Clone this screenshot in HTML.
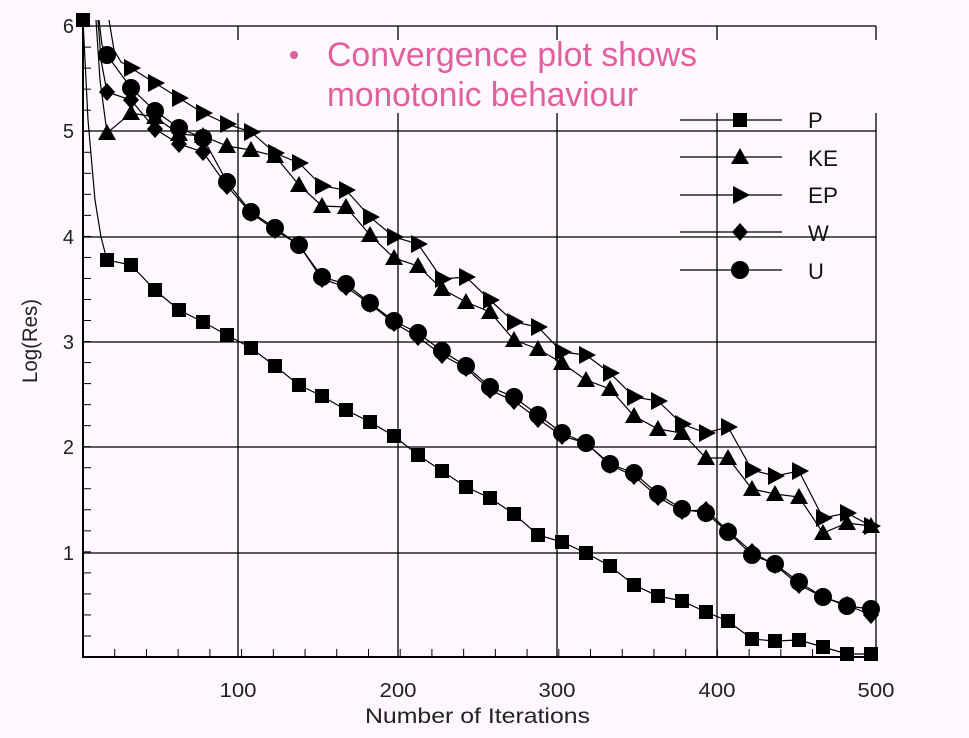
<!DOCTYPE html>
<html><head><meta charset="utf-8"><style>
html,body{margin:0;padding:0;background:#fdf8fd;}
svg{display:block;font-family:"Liberation Sans",sans-serif;}
</style></head><body>
<svg id="s" width="969" height="738" viewBox="0 0 969 738" xmlns="http://www.w3.org/2000/svg">
<rect width="969" height="738" fill="#fdf8fd"/>
<g stroke="#000" stroke-width="1.3" fill="none">
<line x1="83" y1="26" x2="876" y2="26"/>
<line x1="83" y1="131" x2="876" y2="131"/>
<line x1="83" y1="237" x2="876" y2="237"/>
<line x1="83" y1="342" x2="876" y2="342"/>
<line x1="83" y1="447" x2="876" y2="447"/>
<line x1="83" y1="553" x2="876" y2="553"/>
<line x1="238" y1="26" x2="238" y2="657"/>
<line x1="398" y1="26" x2="398" y2="657"/>
<line x1="557" y1="26" x2="557" y2="657"/>
<line x1="717" y1="26" x2="717" y2="657"/>
<line x1="876" y1="26" x2="876" y2="657"/>
<line x1="83" y1="657" x2="876" y2="657" stroke-width="2"/>
</g>
<rect x="218" y="40" width="670" height="73" fill="#fdf8fd"/>
<line x1="83" y1="26" x2="83" y2="658" stroke="#000" stroke-width="2"/>
<g id="ticks" stroke="#000" stroke-width="1"></g>
<g font-size="20" fill="#222" text-anchor="end">
<text x="74" y="33">6</text><text x="74" y="138">5</text><text x="74" y="244">4</text>
<text x="74" y="349">3</text><text x="74" y="454">2</text><text x="74" y="560">1</text>
</g>
<g font-size="20" fill="#222" text-anchor="middle">
<text x="238" y="697" textLength="37" lengthAdjust="spacingAndGlyphs">100</text>
<text x="398" y="697" textLength="37" lengthAdjust="spacingAndGlyphs">200</text>
<text x="557" y="697" textLength="37" lengthAdjust="spacingAndGlyphs">300</text>
<text x="717" y="697" textLength="37" lengthAdjust="spacingAndGlyphs">400</text>
<text x="876" y="697" textLength="37" lengthAdjust="spacingAndGlyphs">500</text>
</g>
<text x="365" y="723" font-size="21" fill="#222" textLength="225" lengthAdjust="spacingAndGlyphs">Number of Iterations</text>
<text transform="translate(37,341) rotate(-90)" font-size="21" fill="#222" text-anchor="middle" textLength="84" lengthAdjust="spacingAndGlyphs">Log(Res)</text>
<g fill="#e0609e" font-size="34">
<circle cx="294" cy="55" r="4"/>
<text x="327" y="66" textLength="370" lengthAdjust="spacingAndGlyphs">Convergence plot shows</text>
<text x="327" y="106" textLength="311" lengthAdjust="spacingAndGlyphs">monotonic behaviour</text>
</g>
<g id="series"></g>
<g font-size="22" fill="#111">
<text x="808" y="128">P</text><text x="808" y="166" textLength="30" lengthAdjust="spacingAndGlyphs">KE</text>
<text x="808" y="203" textLength="30" lengthAdjust="spacingAndGlyphs">EP</text>
<text x="808" y="241">W</text><text x="808" y="279">U</text>
</g>
</svg>
<script>
var NS="http://www.w3.org/2000/svg";
function el(p,t,a){var e=document.createElementNS(NS,t);for(var k in a)e.setAttribute(k,a[k]);p.appendChild(e);return e;}
var tk=document.getElementById("ticks");
for(var i=0;i<=25;i++){var x=83+i*31.72;el(tk,"line",{x1:x,y1:657,x2:x,y2:649});}
for(var j=0;j<=30;j++){var y=657-j*21.03;el(tk,"line",{x1:83,y1:y,x2:91,y2:y});}
var g=document.getElementById("series");
function mk(type,x,y){
 if(type=="sq")el(g,"rect",{x:x-7,y:y-7,width:14,height:14,fill:"#000"});
 else if(type=="ci")el(g,"circle",{cx:x,cy:y,r:9,fill:"#000"});
 else if(type=="di")el(g,"polygon",{points:(x)+","+(y-9)+" "+(x+8)+","+y+" "+x+","+(y+9)+" "+(x-8)+","+y,fill:"#000"});
 else if(type=="tu")el(g,"polygon",{points:x+","+(y-9)+" "+(x+9)+","+(y+7)+" "+(x-9)+","+(y+7),fill:"#000"});
 else if(type=="tr")el(g,"polygon",{points:(x+10)+","+y+" "+(x-7)+","+(y-9)+" "+(x-7)+","+(y+9),fill:"#000"});
}
var X=[107,131,155,179,203,227,251,275,299,322,346,370,394,418,442,466,490,514,538,562,586,610,634,658,682,706,728,752,775,799,823,847,871];
var S={
sq:{start:[[83,20],[88,120],[95,200],[101,237]],o:0,y:[260,265,290,310,322,335,348,366,385,396,410,422,436,455,471,487,498,514,535,542,553,566,585,596,601,612,621,639,641,640,647,654,654]},
tu:{start:[[96,20],[100,80]],o:0,y:[133,113,117,134,136,146,150,156,185,206,207,235,258,266,289,302,312,340,349,363,380,389,416,429,433,458,458,489,494,497,533,523,526]},
tr:{start:[[109,20],[114,50],[121,62]],o:1,y:[68,83,98,113,124,132,153,163,186,190,217,237,244,279,277,300,322,327,352,355,373,397,401,424,433,427,470,476,471,518,513,526]},
di:{start:[[98,20],[101,60]],o:0,y:[92,100,129,144,152,186,213,230,245,279,287,304,323,337,355,368,390,401,419,436,443,465,476,497,511,510,531,552,565,585,597,605,615]},
ci:{start:[[99,20],[102,45]],o:0,y:[55,88,111,128,138,182,212,228,245,277,284,303,321,333,351,366,387,397,415,433,443,464,473,494,509,513,532,555,564,582,597,606,609]}
};
for(var k in S){var s=S[k];var pts=s.start.slice();
 for(var i=0;i<s.y.length;i++)pts.push([X[i+s.o],s.y[i]]);
 el(g,"polyline",{points:pts.map(function(p){return p.join(",")}).join(" "),fill:"none",stroke:"#000","stroke-width":1.2});
 for(var i=0;i<s.y.length;i++)mk(k,X[i+s.o],s.y[i]);
 if(k=="sq")mk("sq",83,20);
}
var L=[["sq",120],["tu",157],["tr",195],["di",232],["ci",270]];
L.forEach(function(l){el(g,"line",{x1:680,y1:l[1],x2:782,y2:l[1],stroke:"#000","stroke-width":1.2});mk(l[0],740,l[1]);});
</script>
</body></html>
